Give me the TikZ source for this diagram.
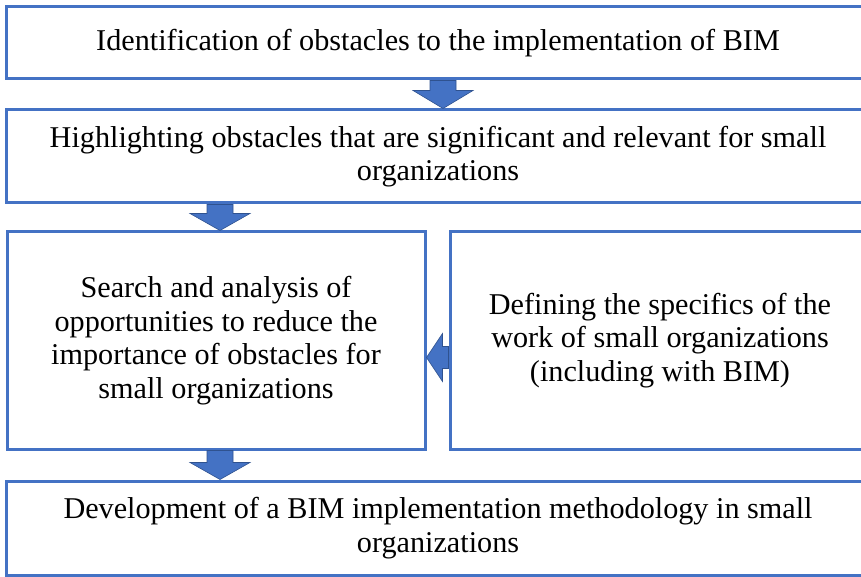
\documentclass[tikz,border=0pt]{standalone}
\usepackage{fontspec}
\setmainfont{Liberation Serif}
\usetikzlibrary{calc}
\definecolor{boxblue}{HTML}{4472C4}
\definecolor{arrowedge}{HTML}{2F528F}
\tikzset{
	stagebox/.style={draw=boxblue, line width=3pt, fill=white, align=center, inner sep=0pt,
		font=\fontsize{30.2}{33.5}\selectfont},
	blockarrow/.style={fill=boxblue, draw=arrowedge, line width=0.6pt, line join=miter}
}
% block arrow from (#1) to tip (#2): shaft half width #3, head half width #4, head length #5
\def\blockarrow(#1)(#2)(#3:#4:#5){
	\coordinate (hb) at ($(#2)!#5!(#1)$);
	\draw[blockarrow] ($(#1)!#3!90:(#2)$) -- ($(hb)!#3!90:(#2)$) -- ($(hb)!#4!90:(#2)$) -- (#2)
		-- ($(hb)!#4!-90:(#2)$) -- ($(hb)!#3!-90:(#2)$) -- ($(#1)!#3!-90:(#2)$) -- cycle;
}

\begin{document}
\begin{tikzpicture}[x=1pt, y=-1pt]
			%%%%% START %%%%%
			\useasboundingbox (0,0) rectangle (861,577);
			\clip (0,0) rectangle (861,577);
			
			\node[stagebox, minimum width=864pt, minimum height=72pt] (ident) at (438, 43)
				{Identification of obstacles to the implementation of BIM};
			\node[stagebox, minimum width=864pt, minimum height=93pt] (highl) at (438, 156.5)
				{Highlighting obstacles that are significant and relevant for small\\organizations};
			
			\node[stagebox, minimum width=418pt, minimum height=217pt] (search) at (216, 340.5)
				{Search and analysis of\\opportunities to reduce the\\importance of obstacles for\\small organizations};
			\node[stagebox, minimum width=420pt, minimum height=217pt] (specif) at (660, 340.5)
				{Defining the specifics of the\\work of small organizations\\(including with BIM)};
			
			\node[stagebox, minimum width=864pt, minimum height=94pt] (method) at (438, 528)
				{Development of a BIM implementation methodology in small\\organizations};
			
			% arrows between the stages
			\coordinate (a1) at (ident.south -| 443,0);
			\coordinate (b1) at (highl.north -| 443,0);
			\blockarrow(a1)(b1)(13pt:30pt:18pt)
			
			\coordinate (a2) at (highl.south -| 220,0);
			\coordinate (b2) at (search.north -| 220,0);
			\blockarrow(a2)(b2)(13pt:30pt:17pt)
			
			\coordinate (a3) at (specif.west |- 0,357.5);
			\coordinate (b3) at (search.east |- 0,357.5);
			\blockarrow(a3)(b3)(11pt:24pt:16pt)
			
			\coordinate (a4) at (search.south -| 220,0);
			\coordinate (b4) at (method.north -| 220,0);
			\blockarrow(a4)(b4)(13pt:30pt:17pt)
			
			%%%%% END %%%%%
\end{tikzpicture}
\end{document}
